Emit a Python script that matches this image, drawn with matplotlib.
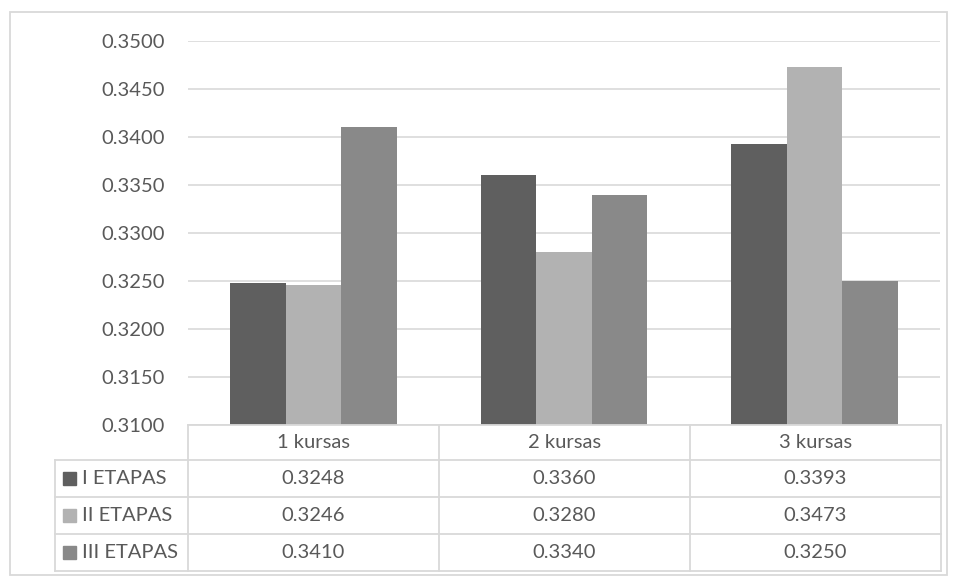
import matplotlib
matplotlib.use("Agg")
import matplotlib.pyplot as plt
from matplotlib.patches import Rectangle
from matplotlib.lines import Line2D
import numpy as np

plt.rcParams['font.family'] = ['Lato', 'DejaVu Sans']

categories = ["1 kursas", "2 kursas", "3 kursas"]
series_names = ["I ETAPAS", "II ETAPAS", "III ETAPAS"]
etapas_1 = [0.3248, 0.3360, 0.3393]
etapas_2 = [0.3246, 0.3280, 0.3473]
etapas_3 = [0.3410, 0.3340, 0.3250]
series_values = [etapas_1, etapas_2, etapas_3]
colors = ["#5f5f5f", "#b2b2b2", "#898989"]
y_ticks = [0.3100, 0.3150, 0.3200, 0.3250, 0.3300, 0.3350, 0.3400, 0.3450, 0.3500]

W, H = 957, 583
fig = plt.figure(figsize=(W / 100, H / 100), dpi=100)
text_color = "#595959"
grid_color = "#d9d9d9"
fs = 14.5

def fx(px):
    return px / W

def fy(py):
    return 1 - py / H

# plot area
left_px, right_px, top_px, bottom_px = 188, 940, 41, 425
ax = fig.add_axes([fx(left_px), fy(bottom_px), fx(right_px - left_px), (bottom_px - top_px) / H])
n = len(categories)
x = np.arange(n)
bw = 0.222
for i, (vals, c) in enumerate(zip(series_values, colors)):
    ax.bar(x + (i - 1) * bw, np.array(vals) - y_ticks[0], bw, bottom=y_ticks[0],
           color=c, zorder=3, linewidth=0)
ax.set_xlim(-0.5, n - 0.5)
ax.set_ylim(y_ticks[0], y_ticks[-1])
ax.set_yticks(y_ticks)
ax.set_yticklabels([f"{v:.4f}" for v in y_ticks], color=text_color, fontsize=fs)
ax.tick_params(axis='y', length=0, pad=17)
ax.set_xticks([])
ax.grid(axis='y', color=grid_color, linewidth=1.2, zorder=0)
for s in ax.spines.values():
    s.set_visible(False)

# data table beneath the bars
col_edges = [188, 439, 690, 941]
row_label_left = 55
row_edges = [425, 460, 497, 534, 571]
line_kw = dict(color=grid_color, linewidth=1.3, transform=fig.transFigure)
# horizontal lines
fig.add_artist(Line2D([fx(col_edges[0]), fx(col_edges[-1])], [fy(row_edges[0])] * 2, **line_kw))
for ry in row_edges[1:]:
    fig.add_artist(Line2D([fx(row_label_left), fx(col_edges[-1])], [fy(ry)] * 2, **line_kw))
# vertical lines
for cx in col_edges:
    fig.add_artist(Line2D([fx(cx)] * 2, [fy(row_edges[0]), fy(row_edges[-1])], **line_kw))
fig.add_artist(Line2D([fx(row_label_left)] * 2, [fy(row_edges[1]), fy(row_edges[-1])], **line_kw))

for j, cat in enumerate(categories):
    cx = (col_edges[j] + col_edges[j + 1]) / 2
    cy = (row_edges[0] + row_edges[1]) / 2
    fig.text(fx(cx), fy(cy), cat, ha='center', va='center', color=text_color, fontsize=fs)

for i, (name, vals, c) in enumerate(zip(series_names, series_values, colors)):
    cy = (row_edges[i + 1] + row_edges[i + 2]) / 2
    fig.add_artist(Rectangle((fx(63), fy(cy + 6.5)), fx(13), 13 / H, color=c,
                             transform=fig.transFigure))
    fig.text(fx(82), fy(cy), name, ha='left', va='center', color=text_color, fontsize=fs)
    for j, v in enumerate(vals):
        cx = (col_edges[j] + col_edges[j + 1]) / 2
        fig.text(fx(cx), fy(cy), f"{v:.4f}", ha='center', va='center', color=text_color, fontsize=fs)

# chart frame
fig.add_artist(Rectangle((fx(10), fy(575)), fx(937), 563 / H, fill=False,
                         edgecolor=grid_color, linewidth=1.3, transform=fig.transFigure))

fig.savefig("out.png", dpi=100)
